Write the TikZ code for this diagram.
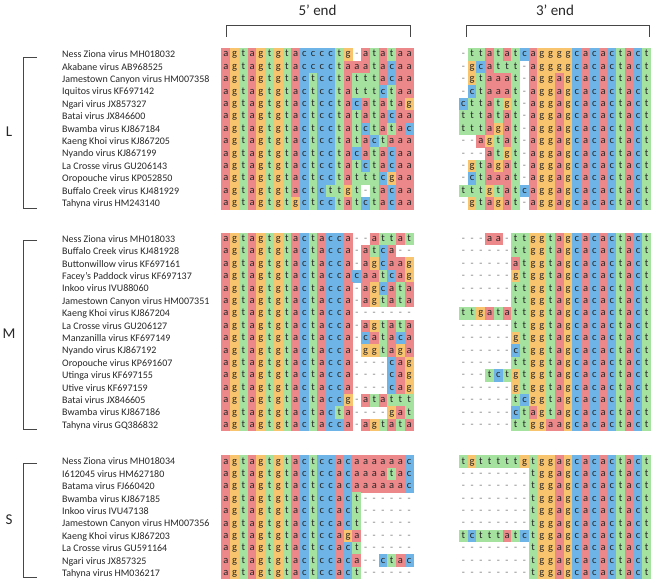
\documentclass[tikz,border=0pt]{standalone}
\usepackage{fontspec}
\setmainfont{Carlito}
\definecolor{nuca}{RGB}{236,136,138}
\definecolor{nucc}{RGB}{110,180,230}
\definecolor{nucg}{RGB}{249,196,110}
\definecolor{nuct}{RGB}{165,226,160}
\definecolor{txt}{RGB}{40,40,40}
\definecolor{brk}{RGB}{70,70,70}
\newcount\ci
\newcount\ri
\def\cw{8.73}
\def\rs{12.4}
\def\rowseq#1#2#3#4{\ci=0 \def\sqn{#1}\def\sqx{#2}\def\sqy{#3}\seqloop#4\relax}
\def\seqloop#1{\ifx#1\relax\else\onecell{#1}\advance\ci by 1 \expandafter\seqloop\fi}
\def\onecell#1{%
  \pgfmathsetmacro\cxx{\sqx+(\the\ci+0.5)*\cw}%
  \ifx#1-%
    \node[dashn] (\sqn-\the\ci) at (\cxx,\sqy) {-};%
  \else
    \fill[nuc#1] (\cxx-\cw/2-0.1,\sqy-\rs/2-0.1) rectangle (\cxx+\cw/2+0.1,\sqy+\rs/2+0.1);%
    \node[letn] (\sqn-\the\ci) at (\cxx,\sqy) {#1};%
  \fi}
\def\vrow#1#2#3{%
  \pgfmathsetmacro\ry{\gy+\the\ri*\rs}%
  \node[lab] (\gn lab\the\ri) at (62,\ry) {#1};%
  \rowseq{\gn f\the\ri}{221.5}{\ry}{#2}%
  \rowseq{\gn t\the\ri}{459}{\ry}{#3}%
  \advance\ri by 1 }
\begin{document}
\begin{tikzpicture}[x=1pt,y=-1pt,
  letn/.style={font=\fontsize{10.5}{10}\selectfont, text=txt, inner sep=0pt, anchor=base, yshift=-2.5pt},
  dashn/.style={font=\fontsize{10}{10}\selectfont, text=black!55, inner sep=0pt, anchor=base, yshift=-2.4pt},
  lab/.style={font=\fontsize{10}{12}\selectfont, text=txt, inner sep=0pt, anchor=base west, yshift=-3.3pt},
  grp/.style={font=\fontsize{15}{15}\selectfont, text=txt, inner sep=0pt},
  ttl/.style={font=\fontsize{15}{15}\selectfont, text=txt, inner sep=0pt},
  brline/.style={draw=brk, line width=0.8pt}]
\useasboundingbox (0,0) rectangle (658,585);
\fill[white] (0,0) rectangle (658,585);
% titles and brackets
\node[ttl] (t5) at (317.5,10) {5’ end};
\node[ttl] (t3) at (555,10) {3’ end};
\coordinate (b5a) at (226,37); \coordinate (b5b) at (410,37);
\coordinate (b3a) at (466,37); \coordinate (b3b) at (649,37);
\draw[brline] (b5a) -- ++(0,-12) -| (b5b);
\draw[brline] (b3a) -- ++(0,-12) -| (b3b);
% group brackets
\coordinate (Lt) at (37,57); \coordinate (Lb) at (37,208);
\coordinate (Mt) at (37,240); \coordinate (Mb) at (37,429);
\coordinate (St) at (37,463); \coordinate (Sb) at (37,577);
\draw[brline] (Lt) -- ++(-14,0) |- (Lb);
\draw[brline] (Mt) -- ++(-14,0) |- (Mb);
\draw[brline] (St) -- ++(-14,0) |- (Sb);
\node[grp] (gL) at (9,132) {L};
\node[grp] (gM) at (9,334) {M};
\node[grp] (gS) at (9,520) {S};
% L segment
\def\gn{L}\def\gy{54.5}\ri=0
\vrow{Ness Ziona virus MH018032}{agtagtgtacccctg-atataa}{-ttatatcaggggcacactact}
\vrow{Akabane virus AB968525}{agtagtgtacccctaaatacaa}{-gcattt-aggggcacactact}
\vrow{Jamestown Canyon virus HM007358}{agtagtgtactcctatttacaa}{-gtaaat-aggagcacactact}
\vrow{Iquitos virus KF697142}{agtagtgtactcctatttctaa}{-ctaaat-aggagcacactact}
\vrow{Ngari virus JX857327}{agtagtgtactcctacatatag}{cttatgt-aggagcacactact}
\vrow{Batai virus JX846600}{agtagtgtactcctatatacaa}{tttatat-aggagcacactact}
\vrow{Bwamba virus KJ867184}{agtagtgtactcctatctatac}{tttagat-aggagcacactact}
\vrow{Kaeng Khoi virus KJ867205}{agtagtgtactcctatactaaa}{--agtat-aggagcacactact}
\vrow{Nyando virus KJ867199}{agtagtgtactcctacatacaa}{---atgt-aggagcacactact}
\vrow{La Crosse virus GU206143}{agtagtgtactcctatctacaa}{-gtagat-aggagcacactact}
\vrow{Oropouche virus KP052850}{agtagtgtactcctatttcgaa}{-ctaaat-aggagcacactact}
\vrow{Buffalo Creek virus KJ481929}{agtagtgtactcttgt-tacaa}{tttgtatcaggagcacactact}
\vrow{Tahyna virus HM243140}{agtagtgtgctcctatctacaa}{-gtagat-aggagcacactact}
% M segment
\def\gn{M}\def\gy{239}\ri=0
\vrow{Ness Ziona virus MH018033}{agtagtgtactacca--attat}{---aa-ttggtagcacactact}
\vrow{Buffalo Creek virus KJ481928}{agtagtgtactacca-atca--}{------ttggtagcacactact}
\vrow{Buttonwillow virus KF697161}{agtagtgtactacca-agcaag}{------atggtagcacactact}
\vrow{Facey's Paddock virus KF697137}{agtagtgtactaccacaatcag}{------gtggtagcacactact}
\vrow{Inkoo virus IVU88060}{agtagtgtactacca-agcata}{------ttggtagcacactact}
\vrow{Jamestown Canyon virus HM007351}{agtagtgtactacca-agtata}{------ttggtagcacactact}
\vrow{Kaeng Khoi virus KJ867204}{agtagtgtactacca-------}{ttgatattggtagcacactact}
\vrow{La Crosse virus GU206127}{agtagtgtactacca-agtata}{------ttggtagcacactact}
\vrow{Manzanilla virus KF697149}{agtagtgtactacca-cataca}{------gtggtagcacactact}
\vrow{Nyando virus KJ867192}{agtagtgtactacca-ggtaga}{------ctggtagcacactact}
\vrow{Oropouche virus KP691607}{agtagtgtactacca----cag}{------ttggtagcacactact}
\vrow{Utinga virus KF697155}{agtagtgtactacca----cag}{---tctgtggtagcacactact}
\vrow{Utive virus KF697159}{agtagtgtactacca----cag}{------gtggtagcacactact}
\vrow{Batai virus JX846605}{agtagtgtactaccg-atattt}{------tcggtagcacactact}
\vrow{Bwamba virus KJ867186}{agtagtgtactacta----gat}{------ctagtagcacactact}
\vrow{Tahyna virus GQ386832}{agtagtgtactacca-agtata}{------ttggaagcacactact}
% S segment
\def\gn{S}\def\gy{461.5}\ri=0
\vrow{Ness Ziona virus MH018034}{agtagtgtactccacaaaaaac}{tgtttttgtggagcacactact}
\vrow{I612045 virus HM627180}{agtagtgtactccacaaaatac}{--------tggagcacactact}
\vrow{Batama virus FJ660420}{agtagtgtactccacaaaaaac}{--------tggagcacactact}
\vrow{Bwamba virus KJ867185}{agtagtgtactccact------}{--------tggagcacactact}
\vrow{Inkoo virus IVU47138}{agtagtgtactccact------}{--------tggagcacactact}
\vrow{Jamestown Canyon virus HM007356}{agtagtgtactccact------}{--------tggagcacactact}
\vrow{Kaeng Khoi virus KJ867203}{agtagtgtactccaga------}{tctttatctggagcacactact}
\vrow{La Crosse virus GU591164}{agtagtgtactccact------}{--------tggagcacactact}
\vrow{Ngari virus JX857325}{agtagtgtactccaca--ctac}{--------tggagcacactact}
\vrow{Tahyna virus HM036217}{agtagtgtactccact------}{--------tggagcacactact}
\end{tikzpicture}
\end{document}
